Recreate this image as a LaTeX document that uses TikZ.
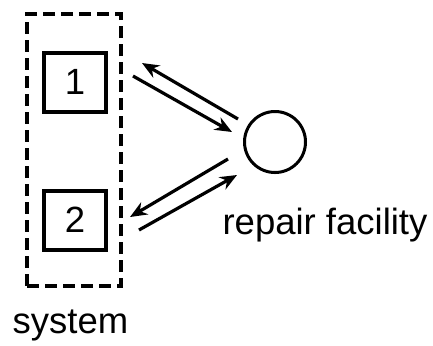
\documentclass[tikz,border=0pt]{standalone}
\usepackage{fontspec}
\setmainfont{Liberation Sans}
\usetikzlibrary{arrows.meta,positioning}

\begin{document}
\begin{tikzpicture}[x=0.5pt,y=-0.5pt,
    unitbox/.style={draw,line width=2pt,minimum width=31pt,minimum height=29.5pt,inner sep=0pt,font=\fontsize{18.25}{22}\selectfont},
    sysbox/.style={draw,line width=2pt,dash pattern=on 6pt off 3pt,minimum width=47pt,minimum height=136pt,inner sep=0pt},
    facility/.style={draw,circle,line width=1.5pt,minimum size=30.5pt,inner sep=0pt},
    flow/.style={-{Stealth[length=8.5pt,width=7pt]},line width=1.6pt},
    caption/.style={font=\fontsize{18.25}{22}\selectfont}]
    \useasboundingbox (0,0) rectangle (433,345);

    % system with its two units
    \node[sysbox] (system) at (74,150) {};
    \node[unitbox] (unit1) at (75,82) {1};
    \node[unitbox] (unit2) at (75,220) {2};
    \node[caption,anchor=base] (syslabel) at (70.5,333) {system};

    % repair facility
    \node[facility] (repair) at (275,142) {};
    \node[caption,anchor=base] (replabel) at (325,234) {repair facility};

    % flows between units and facility
    \coordinate (back1s) at (238,119);
    \coordinate (back1e) at (142,63);
    \coordinate (go1s) at (133,76);
    \coordinate (go1e) at (232,132);
    \coordinate (back2s) at (228,159);
    \coordinate (back2e) at (130,217);
    \coordinate (go2s) at (139,230);
    \coordinate (go2e) at (237,175);
    \draw[flow] (back1s) -- (back1e);
    \draw[flow] (go1s) -- (go1e);
    \draw[flow] (back2s) -- (back2e);
    \draw[flow] (go2s) -- (go2e);
\end{tikzpicture}
\end{document}
